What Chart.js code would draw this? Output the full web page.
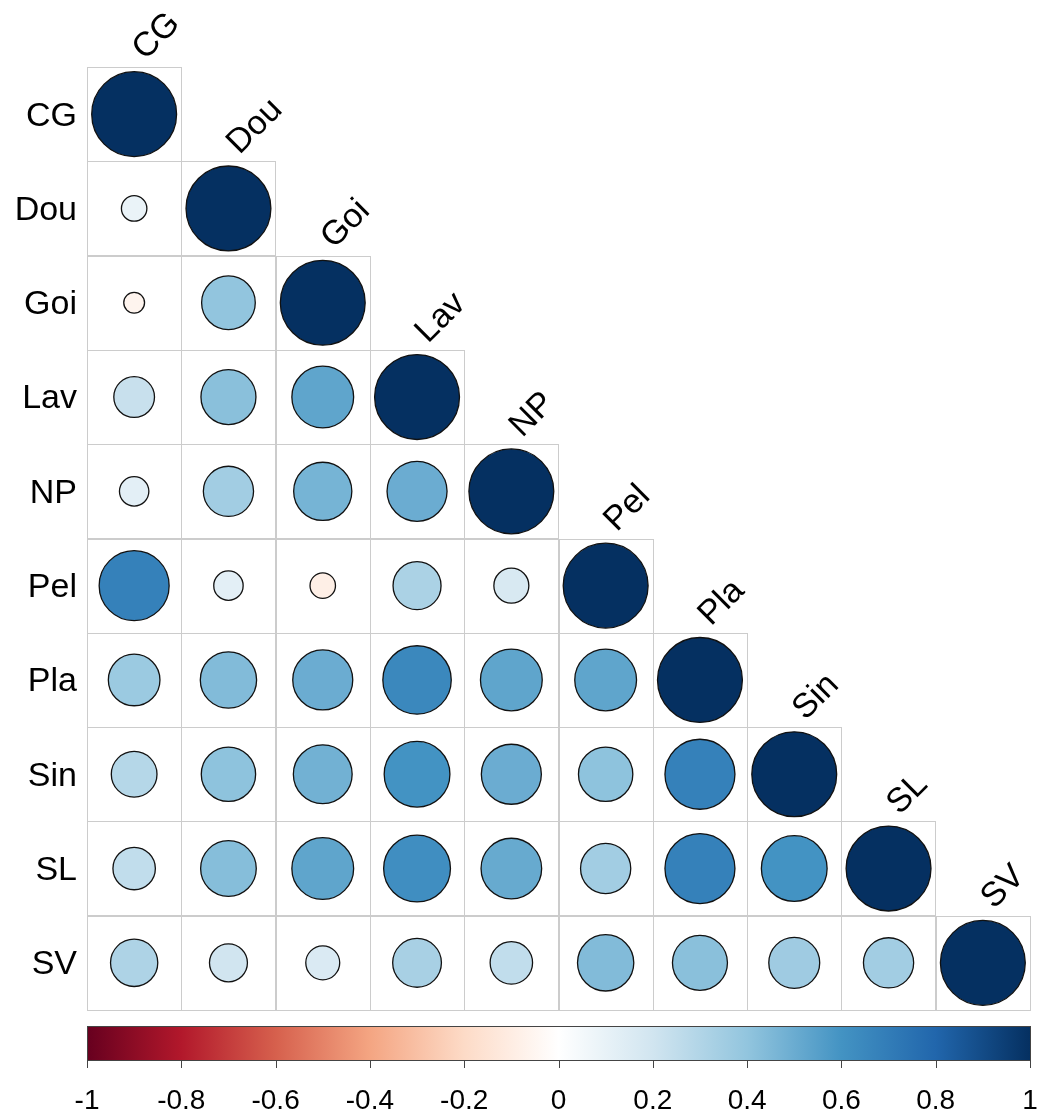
<!DOCTYPE html>
<html>
<head>
<meta charset="utf-8">
<script src="https://cdn.jsdelivr.net/npm/chart.js@4/dist/chart.umd.min.js"></script>
<style>
  html, body { margin: 0; padding: 0; background: #ffffff; }
  #wrap { width: 1037px; height: 1117px; position: relative; }
</style>
</head>
<body>
<div id="wrap"><canvas id="corr"></canvas></div>
<script>
// Variable names (rows top to bottom, columns left to right)
const variables = ["CG", "Dou", "Goi", "Lav", "NP", "Pel", "Pla", "Sin", "SL", "SV"];

// Lower-triangle correlation coefficients, one row per variable
const rowCG  = [1];
const rowDou = [0.09, 1];
const rowGoi = [-0.06, 0.40, 1];
const rowLav = [0.23, 0.42, 0.53, 1];
const rowNP  = [0.12, 0.35, 0.47, 0.50, 1];
const rowPel = [0.68, 0.12, -0.09, 0.32, 0.17, 1];
const rowPla = [0.37, 0.44, 0.50, 0.65, 0.53, 0.53, 1];
const rowSin = [0.29, 0.41, 0.48, 0.60, 0.50, 0.41, 0.68, 1];
const rowSL  = [0.25, 0.43, 0.53, 0.62, 0.51, 0.35, 0.68, 0.60, 1];
const rowSV  = [0.31, 0.20, 0.16, 0.33, 0.25, 0.44, 0.42, 0.36, 0.35, 1];
const corrRows = [rowCG, rowDou, rowGoi, rowLav, rowNP, rowPel, rowPla, rowSin, rowSL, rowSV];

// Colour-key tick labels
const keyTicks = [-1, -0.8, -0.6, -0.4, -0.2, 0, 0.2, 0.4, 0.6, 0.8, 1];

// Diverging red-white-blue ramp, anchored every 0.2 from -1 to 1
const ramp = ["#67001F", "#B2182B", "#D6604D", "#F4A582", "#FDDBC7", "#FFFFFF",
              "#D1E5F0", "#92C5DE", "#4393C3", "#2166AC", "#053061"];

function hexToRgb(h) {
  return [parseInt(h.slice(1, 3), 16), parseInt(h.slice(3, 5), 16), parseInt(h.slice(5, 7), 16)];
}
function corrColor(v) {
  const t = (Math.max(-1, Math.min(1, v)) + 1) / 2 * (ramp.length - 1);
  const i = Math.min(Math.floor(t), ramp.length - 2);
  const f = t - i;
  const a = hexToRgb(ramp[i]), b = hexToRgb(ramp[i + 1]);
  const c = a.map((x, k) => Math.round(x + (b[k] - x) * f));
  return `rgb(${c[0]},${c[1]},${c[2]})`;
}

// One point per lower-triangle cell
const points = [];
corrRows.forEach((row, r) => {
  row.forEach((v, c) => points.push({ x: c + 1, y: r + 1, v: v }));
});

const FONT = '"Liberation Sans", Arial, sans-serif';

function cellSize(chart) {
  const s = chart.scales.x;
  return Math.abs(s.getPixelForValue(2) - s.getPixelForValue(1));
}

// Grid of the lower-triangle cells, drawn under the circles
const gridPlugin = {
  id: 'triGrid',
  beforeDatasetsDraw(chart) {
    const { ctx, scales: { x, y } } = chart;
    ctx.save();
    ctx.strokeStyle = '#cccccc';
    ctx.lineWidth = 1;
    corrRows.forEach((row, r) => {
      row.forEach((v, c) => {
        const x0 = x.getPixelForValue(c + 0.5), x1 = x.getPixelForValue(c + 1.5);
        const y0 = y.getPixelForValue(r + 0.5), y1 = y.getPixelForValue(r + 1.5);
        ctx.strokeRect(Math.round(x0) + 0.5, Math.round(y0) + 0.5,
                       Math.round(x1 - x0), Math.round(y1 - y0));
      });
    });
    ctx.restore();
  }
};

// Variable labels and the colour key
const labelPlugin = {
  id: 'labelsAndKey',
  afterDraw(chart) {
    const { ctx, scales: { x, y, key } } = chart;
    ctx.save();
    ctx.fillStyle = '#000000';
    ctx.font = `34px ${FONT}`;

    // Row labels, right-aligned to the left of the grid
    ctx.textAlign = 'right';
    ctx.textBaseline = 'middle';
    variables.forEach((name, i) => {
      ctx.fillText(name, x.getPixelForValue(0.5) - 10, y.getPixelForValue(i + 1) + 2);
    });

    // Column labels, rotated 45 degrees above each diagonal cell
    ctx.textAlign = 'left';
    ctx.textBaseline = 'alphabetic';
    variables.forEach((name, i) => {
      const px = x.getPixelForValue(i + 1) + 11;
      const py = y.getPixelForValue(i + 0.5) - 6;
      ctx.save();
      ctx.translate(px, py);
      ctx.rotate(-Math.PI / 4);
      ctx.fillText(name, 0, 0);
      ctx.restore();
    });

    // Colour key bar
    const kx0 = key.getPixelForValue(-1), kx1 = key.getPixelForValue(1);
    const ky0 = 1026, ky1 = 1060;
    const grad = ctx.createLinearGradient(kx0, 0, kx1, 0);
    ramp.forEach((col, i) => grad.addColorStop(i / (ramp.length - 1), col));
    ctx.fillStyle = grad;
    ctx.fillRect(kx0, ky0, kx1 - kx0, ky1 - ky0);
    ctx.strokeStyle = '#444444';
    ctx.lineWidth = 1;
    ctx.strokeRect(Math.round(kx0) + 0.5, ky0 + 0.5, Math.round(kx1 - kx0), ky1 - ky0);

    // Key ticks and labels
    ctx.fillStyle = '#000000';
    ctx.font = `28px ${FONT}`;
    ctx.textAlign = 'center';
    ctx.textBaseline = 'middle';
    keyTicks.forEach(t => {
      const px = Math.round(key.getPixelForValue(t)) + 0.5;
      ctx.beginPath();
      ctx.moveTo(px, ky1);
      ctx.lineTo(px, ky1 + 8);
      ctx.stroke();
      ctx.fillText(String(t), key.getPixelForValue(t), 1101);
    });
    ctx.restore();
  }
};

new Chart(document.getElementById('corr'), {
  type: 'scatter',
  data: {
    datasets: [{
      data: points,
      backgroundColor: ctx => corrColor(ctx.raw.v),
      borderColor: '#111111',
      borderWidth: 1.3,
      pointRadius: ctx => cellSize(ctx.chart) * 0.45 * Math.sqrt(Math.abs(ctx.raw.v)),
      pointHoverRadius: ctx => cellSize(ctx.chart) * 0.45 * Math.sqrt(Math.abs(ctx.raw.v))
    }]
  },
  options: {
    responsive: true,
    maintainAspectRatio: false,
    animation: false,
    events: [],
    layout: { padding: { left: 87, right: 7, top: 67, bottom: 107 } },
    scales: {
      x: { type: 'linear', min: 0.5, max: 10.5, display: false },
      y: { type: 'linear', min: 0.5, max: 10.5, reverse: true, display: false },
      key: { type: 'linear', axis: 'x', min: -1, max: 1, display: false }
    },
    plugins: { legend: { display: false }, tooltip: { enabled: false } }
  },
  plugins: [gridPlugin, labelPlugin]
});
</script>
</body>
</html>
